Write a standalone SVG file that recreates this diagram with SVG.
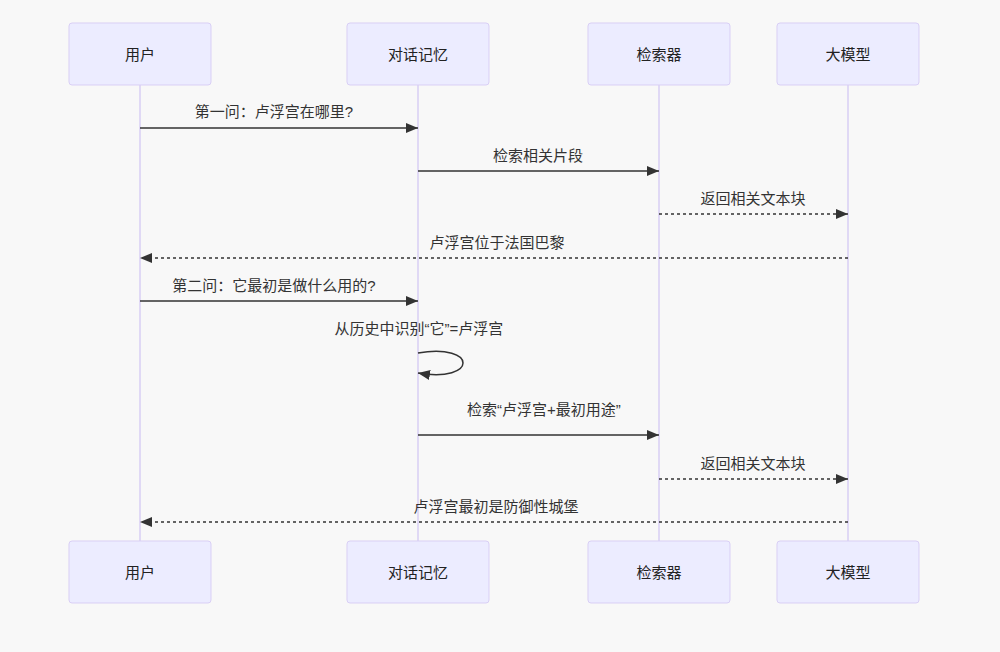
<svg xmlns="http://www.w3.org/2000/svg" width="1000" height="652" viewBox="0 0 1000 652">
<style>
.actor{fill:#ECECFF;stroke:#D9CFF5;stroke-width:1}
.life{stroke:#D9CFF5;stroke-width:1.5;fill:none}
.at{font-family:"Liberation Sans","Noto Sans CJK SC",sans-serif;font-size:15px;fill:#222;text-anchor:middle;dominant-baseline:central}
.mt{font-family:"Liberation Sans","Noto Sans CJK SC",sans-serif;font-size:15px;fill:#333;text-anchor:middle}
.msg{stroke:#333;stroke-width:1.5;fill:none}
.dot{stroke-dasharray:3,3}
</style>
<defs>
<marker id="ah" viewBox="0 0 12 10" refX="12" refY="5" markerWidth="12" markerHeight="10" markerUnits="userSpaceOnUse" orient="auto">
<path d="M0,0 L12,5 L0,10 z" fill="#333"/>
</marker>
</defs>
<rect width="1000" height="652" fill="#F8F8F8"/>
<g id="lifelines">
<line class="life" x1="140" y1="85" x2="140" y2="541"/>
<line class="life" x1="418" y1="85" x2="418" y2="541"/>
<line class="life" x1="659" y1="85" x2="659" y2="541"/>
<line class="life" x1="848" y1="85" x2="848" y2="541"/>
</g>
<g id="actor-user"><rect class="actor" x="69" y="23" width="142" height="62" rx="3"/><text class="at" x="140" y="54">用户</text></g>
<g id="actor-memory"><rect class="actor" x="347" y="23" width="142" height="62" rx="3"/><text class="at" x="418" y="54">对话记忆</text></g>
<g id="actor-retriever"><rect class="actor" x="588" y="23" width="142" height="62" rx="3"/><text class="at" x="659" y="54">检索器</text></g>
<g id="actor-llm"><rect class="actor" x="777" y="23" width="142" height="62" rx="3"/><text class="at" x="848" y="54">大模型</text></g>
<g id="actor-user-bottom"><rect class="actor" x="69" y="541" width="142" height="62" rx="3"/><text class="at" x="140" y="572">用户</text></g>
<g id="actor-memory-bottom"><rect class="actor" x="347" y="541" width="142" height="62" rx="3"/><text class="at" x="418" y="572">对话记忆</text></g>
<g id="actor-retriever-bottom"><rect class="actor" x="588" y="541" width="142" height="62" rx="3"/><text class="at" x="659" y="572">检索器</text></g>
<g id="actor-llm-bottom"><rect class="actor" x="777" y="541" width="142" height="62" rx="3"/><text class="at" x="848" y="572">大模型</text></g>
<g id="connectors">
<line class="msg" x1="140" y1="128" x2="418" y2="128" marker-end="url(#ah)"/>
<line class="msg" x1="418" y1="171" x2="659" y2="171" marker-end="url(#ah)"/>
<line class="msg dot" x1="659" y1="214" x2="848" y2="214" marker-end="url(#ah)"/>
<line class="msg dot" x1="848" y1="258" x2="140" y2="258" marker-end="url(#ah)"/>
<line class="msg" x1="140" y1="301" x2="418" y2="301" marker-end="url(#ah)"/>
<path class="msg" d="M418,353 C478,343 478,383 418,373" marker-end="url(#ah)"/>
<line class="msg" x1="418" y1="435" x2="659" y2="435" marker-end="url(#ah)"/>
<line class="msg dot" x1="659" y1="479" x2="848" y2="479" marker-end="url(#ah)"/>
<line class="msg dot" x1="848" y1="522" x2="140" y2="522" marker-end="url(#ah)"/>
<text class="mt" x="274" y="117">第一问：卢浮宫在哪里?</text>
<text class="mt" x="538" y="161">检索相关片段</text>
<text class="mt" x="753" y="204">返回相关文本块</text>
<text class="mt" x="497" y="248">卢浮宫位于法国巴黎</text>
<text class="mt" x="274" y="291">第二问：它最初是做什么用的?</text>
<text class="mt" x="419" y="334">从历史中识别“它”=卢浮宫</text>
<text class="mt" x="544" y="415">检索“卢浮宫+最初用途”</text>
<text class="mt" x="753" y="469">返回相关文本块</text>
<text class="mt" x="496" y="512">卢浮宫最初是防御性城堡</text>
</g>
</svg>
